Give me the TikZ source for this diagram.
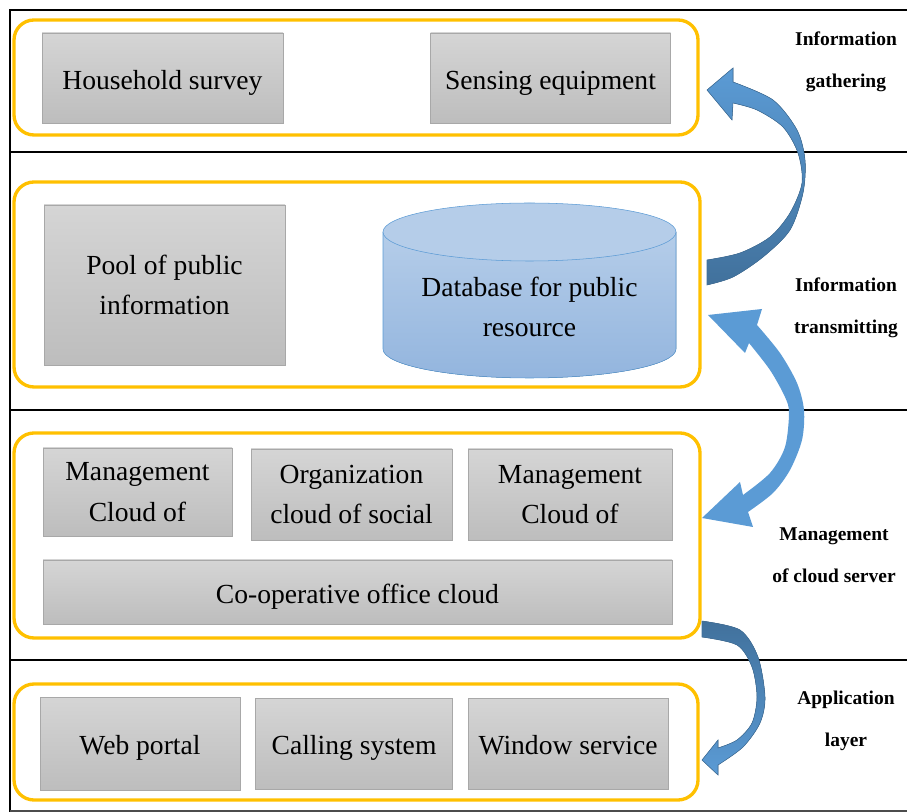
\documentclass[tikz,border=0pt]{standalone}
\usepackage{xcolor}
\usepackage{fontspec}
\setmainfont{Liberation Serif}
\usepackage{tikz}
\usetikzlibrary{positioning}

\definecolor{frameorange}{HTML}{FFC000}
\definecolor{boxtop}{HTML}{D5D5D5}
\definecolor{boxbot}{HTML}{BDBDBD}
\definecolor{boxline}{HTML}{A8A8A8}
\definecolor{dbtop}{HTML}{B5CDE9}
\definecolor{dbbot}{HTML}{93B5DE}
\definecolor{dbline}{HTML}{5B9BD5}
\definecolor{arrowlight}{HTML}{5B9BD5}
\definecolor{arrowdark}{HTML}{41719C}

\begin{document}
\begin{tikzpicture}[x=0.75pt, y=-0.75pt,
  greybox/.style={draw=boxline, top color=boxtop, bottom color=boxbot, align=center, inner sep=0pt, font=\fontsize{20.7}{30.5}\selectfont},
  oneline/.style={text height=16.6pt, text depth=0pt},
  layerframe/.style={draw=frameorange, line width=2.5pt, rounded corners=15pt},
  layerlabel/.style={align=center, font=\fontsize{14.6}{31.5}\selectfont\bfseries},
  sepline/.style={line width=2.2pt},
  blockarrow/.style={draw=arrowdark, line width=0.4pt}]
  \useasboundingbox (0,0) rectangle (907,812);

  % frame and layer separators
  \draw[sepline] (907,10) -- (10,10) -- (10,812);
  \foreach \y in {152,410,660}
    \draw[sepline] (10,\y) -- (907,\y);
  \draw[gray!60!black, line width=1.5pt] (10,811) -- (907,811);

  % layer frames
  \draw[layerframe] (14,20) rectangle (698,135);
  \draw[layerframe] (14,182) rectangle (700,387);
  \draw[layerframe] (14,433) rectangle (700,638);
  \draw[layerframe] (14,684) rectangle (698,800);

  % information gathering
  \node (house) [greybox, oneline, minimum width=180.75pt, minimum height=67.5pt] at (162.5,78) {Household survey};
  \node (sensing) [greybox, oneline, minimum width=180pt, minimum height=67.5pt, right=110.25pt of house] {Sensing equipment};

  % information transmitting
  \node (pool) [greybox, minimum width=180.75pt, minimum height=120pt] at (164.5,285) {Pool of public\\information};
  \fill[top color=dbtop, bottom color=dbbot] (383,232) -- (383,349)
    arc[start angle=180, end angle=0, x radius=146.5, y radius=29] -- (676,232) -- cycle;
  \draw[dbline] (383,232) -- (383,349)
    arc[start angle=180, end angle=0, x radius=146.5, y radius=29] -- (676,232);
  \filldraw[draw=dbline, fill=dbtop] (529.5,232) ellipse [x radius=146.5, y radius=29];
  \node (db) [align=center, font=\fontsize{20.7}{30.5}\selectfont] at (529.5,307) {Database for public\\resource};

  % management of cloud server
  \node (mgmtA) [greybox, minimum width=141.75pt, minimum height=66pt] at (137.5,492) {Management\\Cloud of};
  \node (org) [greybox, minimum width=150.75pt, minimum height=68.25pt] at (351.5,494.5) {Organization\\cloud of social};
  \node (mgmtB) [greybox, minimum width=153pt, minimum height=68.25pt] at (570,494.5) {Management\\Cloud of};
  \node (coop) [greybox, oneline, minimum width=471.75pt, minimum height=48pt] at (357.5,592) {Co-operative office cloud};

  % application layer
  \node (web) [greybox, oneline, minimum width=150pt, minimum height=69.75pt] at (140,743.5) {Web portal};
  \node (calling) [greybox, oneline, minimum width=147.75pt, minimum height=68.25pt, right=11.25pt of web] {Calling system};
  \node (window) [greybox, oneline, minimum width=150pt, minimum height=68.25pt, right=11.25pt of calling] {Window service};

  % layer labels
  \node (lgather) [layerlabel] at (846,62) {Information\\gathering};
  \node (ltrans) [layerlabel] at (846,308) {Information\\transmitting};
  \node (lmanage) [layerlabel] at (834,555) {Management\\of cloud server};
  \node (lapp) [layerlabel] at (846,721) {Application\\layer};

  % block arrows
  \filldraw[blockarrow, top color=arrowlight, bottom color=arrowdark]
    plot[smooth] coordinates {(707,285) (733,277) (763,257) (790,230) (803,193) (805,160) (797,130) (773,100) (733,82)}
    -- (733,68) -- (707,90) -- (732,120)
    -- plot[smooth] coordinates {(733,103) (757,110) (783,127) (798,153) (802,183) (790,213) (770,237) (740,253) (707,260)}
    -- cycle;
  \fill[arrowlight]
    plot[smooth] coordinates {(757,325) (780,353) (797,383) (804,410) (802,440) (790,470) (773,493) (748,512)}
    -- (753,527) -- (702,518) -- (740,482)
    -- plot[smooth] coordinates {(743,495) (770,473) (785,447) (789,413) (785,397) (770,370) (749,343)}
    -- (745,353) -- (708,315) -- (762,309) -- cycle;
  \filldraw[blockarrow, top color=arrowdark, bottom color=arrowlight]
    plot[smooth] coordinates {(702,621) (740,630) (758,657) (765,697) (760,723) (743,747) (718,765)}
    -- (718,775) -- (702,760) -- (718,740)
    -- plot[smooth] coordinates {(718,748) (737,740) (752,723) (757,697) (752,667) (737,645) (702,637)}
    -- cycle;
\end{tikzpicture}
\end{document}
